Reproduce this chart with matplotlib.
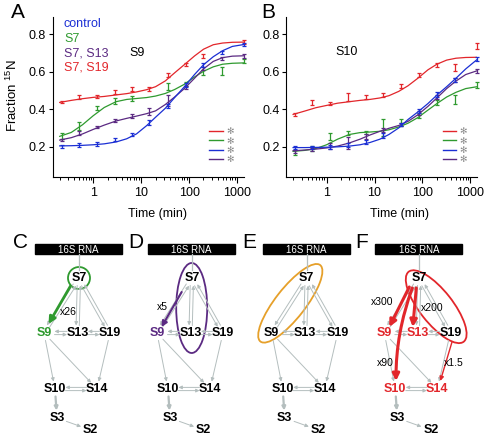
import numpy as np
import matplotlib
matplotlib.use("Agg")
import matplotlib.pyplot as plt
from matplotlib.lines import Line2D
from matplotlib.patches import Ellipse, Circle, Rectangle

plt.rcParams["font.family"] = ["Liberation Sans", "DejaVu Sans"]
plt.rcParams["mathtext.fontset"] = "custom"
plt.rcParams["mathtext.rm"] = "Liberation Sans"

W, H = 484, 438

RED = "#e2262b"
GREEN = "#2f9a2f"
BLUE = "#1b2fd4"
PURPLE = "#5b2a82"
ORANGE = "#e6a02a"
GRAY = "#b4bebe"

# pulse-chase sampling times (min) and times at which the fitted curves were read
times = [0.22, 0.5, 1.2, 2.8, 6.6, 14.7, 36, 85, 200, 480, 1380]
curve_times = [0.2, 0.35, 0.6, 1, 1.7, 3, 5, 8, 13, 20, 32, 50, 80, 130, 200, 320, 500, 800, 1380]

# --- panel A: S9 ---
s9_s7s19 = [0.438, 0.466, 0.468, 0.492, 0.507, 0.508, 0.582, 0.638, 0.684, np.nan, 0.757]
s9_s7s19_err = [0.006, 0.01, 0.006, 0.012, 0.01, 0.01, 0.012, 0.01, 0.01, 0.0, 0.01]
s9_s7s19_fit = [0.436, 0.447, 0.456, 0.463, 0.468, 0.476, 0.483, 0.492, 0.504, 0.52, 0.551,
                0.594, 0.638, 0.684, 0.72, 0.744, 0.753, 0.757, 0.758]
s9_s7 = [0.257, 0.311, 0.407, 0.445, 0.456, np.nan, 0.522, 0.535, 0.597, 0.604, 0.657]
s9_s7_err = [0.015, 0.02, 0.01, 0.015, 0.012, 0.0, 0.02, 0.01, 0.012, 0.02, 0.01]
s9_s7_fit = [0.255, 0.276, 0.317, 0.365, 0.409, 0.440, 0.452, 0.457, 0.462, 0.470, 0.484,
             0.505, 0.533, 0.572, 0.602, 0.626, 0.640, 0.645, 0.647]
s9_ctrl = [0.201, 0.207, 0.215, 0.238, 0.266, 0.33, 0.418, 0.528, 0.634, 0.702, 0.745]
s9_ctrl_err = [0.008, 0.01, 0.01, 0.01, 0.008, 0.012, 0.01, 0.01, 0.01, 0.01, 0.01]
s9_ctrl_fit = [0.204, 0.205, 0.207, 0.21, 0.215, 0.225, 0.242, 0.268, 0.312, 0.357, 0.405,
               0.462, 0.52, 0.585, 0.637, 0.68, 0.712, 0.735, 0.745]
s9_s7s13 = [0.235, 0.272, 0.306, 0.341, 0.362, 0.388, 0.448, 0.516, 0.617, 0.670, 0.684]
s9_s7s13_err = [0.006, 0.01, 0.006, 0.008, 0.01, 0.02, 0.03, 0.01, 0.01, 0.01, 0.01]
s9_s7s13_fit = [0.235, 0.248, 0.268, 0.292, 0.315, 0.337, 0.351, 0.363, 0.376, 0.391, 0.425,
                0.465, 0.51, 0.565, 0.615, 0.655, 0.675, 0.683, 0.685]

# --- panel B: S10 ---
s10_s7s19 = [0.372, 0.436, 0.429, 0.464, 0.464, 0.477, 0.525, 0.583, 0.634, 0.622, 0.737]
s10_s7s19_err = [0.01, 0.012, 0.008, 0.02, 0.01, 0.012, 0.012, 0.012, 0.01, 0.02, 0.015]
s10_s7s19_fit = [0.372, 0.39, 0.408, 0.42, 0.432, 0.44, 0.447, 0.452, 0.46, 0.472, 0.495,
                 0.525, 0.565, 0.61, 0.64, 0.662, 0.672, 0.676, 0.677]
s10_s7 = [0.168, 0.19, 0.255, 0.272, 0.276, 0.30, 0.33, 0.365, 0.435, 0.45, 0.53]
s10_s7_err = [0.012, 0.012, 0.02, 0.01, 0.008, 0.045, 0.02, 0.012, 0.015, 0.025, 0.015]
s10_s7_fit = [0.175, 0.18, 0.19, 0.21, 0.24, 0.265, 0.275, 0.278, 0.282, 0.29, 0.305,
              0.325, 0.355, 0.395, 0.43, 0.465, 0.49, 0.51, 0.52]
s10_ctrl = [0.195, 0.195, 0.2, 0.21, 0.225, 0.26, 0.318, 0.39, 0.478, 0.555, 0.667]
s10_ctrl_err = [0.008, 0.01, 0.01, 0.01, 0.012, 0.015, 0.01, 0.01, 0.012, 0.01, 0.01]
s10_ctrl_fit = [0.195, 0.195, 0.196, 0.197, 0.199, 0.203, 0.21, 0.222, 0.24, 0.265, 0.3,
                0.345, 0.385, 0.43, 0.475, 0.52, 0.565, 0.615, 0.665]
s10_s7s13 = [0.175, 0.185, 0.205, 0.22, 0.255, 0.29, 0.318, 0.38, 0.465, 0.555, 0.605]
s10_s7s13_err = [0.008, 0.01, 0.015, 0.03, 0.012, 0.012, 0.01, 0.01, 0.01, 0.01, 0.012]
s10_s7s13_fit = [0.178, 0.182, 0.187, 0.193, 0.203, 0.22, 0.24, 0.262, 0.282, 0.298, 0.313,
                 0.335, 0.37, 0.415, 0.46, 0.51, 0.55, 0.585, 0.605]

legend_names = ["control", "S7", "S7, S13", "S7, S19"]

# assembly map: node label positions (px inside each small panel)
node_xy = {"S7": (44, 278), "S9": (9, 333), "S13": (42.5, 333), "S19": (75, 333),
           "S10": (20, 389), "S14": (62, 389), "S3": (22, 418), "S2": (55.5, 430)}
pair_edges = [("S7", "S9"), ("S7", "S13"), ("S7", "S19"), ("S9", "S13"),
              ("S13", "S19"), ("S10", "S14")]
single_edges = [("S9", "S10"), ("S9", "S14"), ("S19", "S14"), ("S10", "S3"), ("S3", "S2")]


def fig_box(left, top, width, height):
    return [left / W, 1 - (top + height) / H, width / W, height / H]


def fig_pt(x, y):
    return x / W, 1 - y / H


def kinetics(ax, series, title, title_xy):
    for color, vals, errs, fit in series:
        ax.plot(curve_times, fit, color=color, lw=0.9)
        ax.errorbar(times, vals, yerr=errs, fmt="none", ecolor=color,
                    elinewidth=0.9, capsize=1.6, capthick=0.9, clip_on=False)
    ax.set_xscale("log")
    ax.set_xlim(0.145, 1400)
    ax.set_ylim(0.038, 0.892)
    ax.set_yticks([0.2, 0.4, 0.6, 0.8])
    ax.set_xticks([1, 10, 100, 1000])
    ax.set_xticklabels(["1", "10", "100", "1000"])
    for s in ["top", "right"]:
        ax.spines[s].set_visible(False)
    ax.spines["left"].set_linewidth(0.8)
    ax.spines["bottom"].set_linewidth(0.8)
    ax.tick_params(axis="x", which="major", direction="out", length=4.5, width=0.8,
                   labelsize=9, pad=3)
    ax.tick_params(axis="x", which="minor", direction="out", length=2.5, width=0.7)
    ax.tick_params(axis="y", direction="out", length=3, width=0.8, labelsize=9, pad=2)
    handles = [Line2D([], [], color=c, lw=1) for c in [RED, GREEN, BLUE, PURPLE]]
    leg = ax.legend(handles, ["\u273b"] * 4, loc="lower right",
                    bbox_to_anchor=(0.97, 0.05), frameon=False, handlelength=1.5,
                    handletextpad=0.4, labelspacing=0.05, borderpad=0,
                    prop={"family": "DejaVu Sans", "size": 6.5})
    for t in leg.get_texts():
        t.set_color("#8a8a8a")
    ax.text(*title_xy, title, transform=ax.transAxes, fontsize=9, ha="center", va="center")


fig = plt.figure(figsize=(W / 100, H / 100), dpi=100)

axA = fig.add_axes(fig_box(53, 17, 191, 160))
kinetics(axA, [(RED, s9_s7s19, s9_s7s19_err, s9_s7s19_fit),
               (GREEN, s9_s7, s9_s7_err, s9_s7_fit),
               (PURPLE, s9_s7s13, s9_s7s13_err, s9_s7s13_fit),
               (BLUE, s9_ctrl, s9_ctrl_err, s9_ctrl_fit)],
         "S9", ((137 - 53) / 191, (177 - 53) / 160))
for name, color, y in zip(legend_names, [BLUE, GREEN, PURPLE, RED], [24, 38.5, 53, 67.5]):
    fig.text(*fig_pt(64, y), name, color=color, fontsize=9, ha="left", va="center")

axB = fig.add_axes(fig_box(286.4, 17, 191, 160))
kinetics(axB, [(RED, s10_s7s19, s10_s7s19_err, s10_s7s19_fit),
               (GREEN, s10_s7, s10_s7_err, s10_s7_fit),
               (PURPLE, s10_s7s13, s10_s7s13_err, s10_s7s13_fit),
               (BLUE, s10_ctrl, s10_ctrl_err, s10_ctrl_fit)],
         "S10", ((347 - 286.4) / 191, (177 - 52) / 160))

fig.text(*fig_pt(12, 96), "Fraction $^{15}$N", rotation=90, fontsize=9.5,
         ha="center", va="center")
fig.text(*fig_pt(158, 214), "Time (min)", fontsize=9, ha="center", va="center")
fig.text(*fig_pt(400, 214), "Time (min)", fontsize=9, ha="center", va="center")

for letter, (x, y) in zip("ABCDEF", [(18, 13), (268, 13), (21, 242), (136, 242),
                                     (249, 242), (362, 242)]):
    fig.text(*fig_pt(x, y), letter, fontsize=15, ha="center", va="center")


def trim(p, q, w=10.5, h=7.5):
    dx, dy = q[0] - p[0], q[1] - p[1]
    d = np.hypot(dx, dy)
    ux, uy = dx / d, dy / d
    r = 1 / np.sqrt((ux / w) ** 2 + (uy / h) ** 2)
    return np.array([p[0] + ux * r, p[1] + uy * r]), np.array([-uy, ux])


def arrow(ax, p, q, color, lw, ms, rad=0.0):
    ax.annotate("", xy=tuple(q), xytext=tuple(p),
                arrowprops=dict(arrowstyle="-|>", color=color, lw=lw, mutation_scale=ms,
                                shrinkA=0, shrinkB=0,
                                connectionstyle=f"arc3,rad={rad}"))


def assembly_map(bar_left, label_colors, overlay):
    ax = fig.add_axes(fig_box(bar_left - 10, 235, 113, 203))
    ax.set_xlim(-10, 103)
    ax.set_ylim(438, 235)
    ax.axis("off")
    ax.add_patch(Rectangle((0, 244), 87, 10, color="black"))
    ax.text(43.5, 249.5, "16S RNA", color="white", fontsize=7, ha="center", va="center")
    ax.plot([44, 44], [254, 270], color=GRAY, lw=0.9)
    for a, b in pair_edges:
        pa, pb = np.array(node_xy[a]), np.array(node_xy[b])
        s, n = trim(pa, pb)
        e, _ = trim(pb, pa)
        arrow(ax, s + 1.6 * n, e + 1.6 * n, GRAY, 0.7, 5)
        arrow(ax, e - 1.6 * n, s - 1.6 * n, GRAY, 0.7, 5)
    for a, b in single_edges:
        pa, pb = np.array(node_xy[a]), np.array(node_xy[b])
        s, _ = trim(pa, pb)
        e, _ = trim(pb, pa)
        arrow(ax, s, e, GRAY, 1.6 if (a, b) == ("S10", "S3") else 0.7, 5)
    overlay(ax)
    for name, (x, y) in node_xy.items():
        ax.text(x, y, name, fontsize=9, fontweight="bold", ha="center", va="center",
                color=label_colors.get(name, "black"), zorder=5)


def overlay_c(ax):
    ax.add_patch(Circle((44, 278), 11, fill=False, ec=GREEN, lw=1.3))
    arrow(ax, (35.5, 286), (13.5, 324), GREEN, 2.0, 10)
    ax.text(33, 312, "x26", fontsize=7.5, ha="center", va="center")


def overlay_d(ax):
    ax.add_patch(Ellipse((43.7, 308), 31, 90, fill=False, ec=PURPLE, lw=1.3))
    arrow(ax, (33.7, 292), (13.5, 327), PURPLE, 1.5, 8)
    ax.text(14.5, 307, "x5", fontsize=7.5, ha="center", va="center")


def overlay_e(ax):
    ax.add_patch(Ellipse((27.6, 303.3), 97, 30, angle=-52, fill=False, ec=ORANGE, lw=1.3))


def overlay_f(ax):
    ax.add_patch(Ellipse((60.9, 306.7), 89, 33, angle=51.8, fill=False, ec=RED, lw=1.3))
    arrow(ax, (34, 287), (14, 327), RED, 2.2, 10)
    arrow(ax, (41, 288), (37.5, 327), RED, 2.2, 10)
    arrow(ax, (37, 288), (20.7, 381), RED, 2.2, 10, rad=0.09)
    arrow(ax, (76.7, 342), (65, 381), RED, 1.0, 6)
    ax.text(6.7, 301.7, "x300", fontsize=7.5, ha="center", va="center")
    ax.text(56.7, 308.3, "x200", fontsize=7.5, ha="center", va="center")
    ax.text(10, 363.3, "x90", fontsize=7.5, ha="center", va="center")
    ax.text(78.4, 363.3, "x1.5", fontsize=7.5, ha="center", va="center")


assembly_map(35, {"S9": GREEN}, overlay_c)
assembly_map(148, {"S9": PURPLE}, overlay_d)
assembly_map(262.7, {}, overlay_e)
assembly_map(375.3, {"S9": RED, "S13": RED, "S10": RED, "S14": RED}, overlay_f)

fig.savefig("out.png", dpi=100, facecolor="white")
